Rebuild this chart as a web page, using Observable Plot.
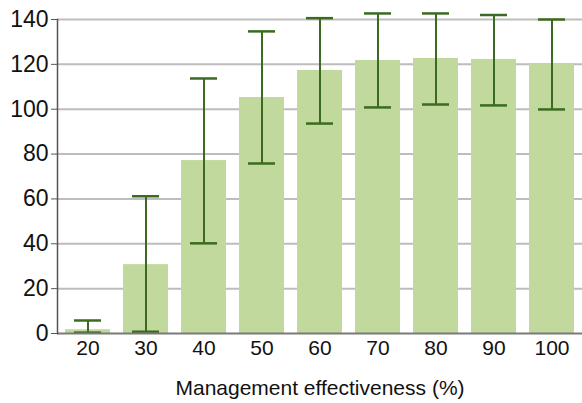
<!DOCTYPE html>
<html>
<head>
<meta charset="utf-8">
<script src="https://cdn.jsdelivr.net/npm/d3@7"></script>
<script src="https://cdn.jsdelivr.net/npm/@observablehq/plot@0.6"></script>
<style>
  html, body { margin: 0; padding: 0; background: #fff; }
  svg { display: block; }
</style>
</head>
<body>
<div id="chart"></div>
<script>
const categories = ["20", "30", "40", "50", "60", "70", "80", "90", "100"];
const values = [1.7, 30.7, 77.1, 105.2, 117.3, 121.7, 122.6, 122.2, 120.4];
const lower = [0.4, 0.8, 40.2, 75.8, 93.6, 100.8, 102.1, 101.7, 99.9];
const upper = [5.8, 61.2, 113.7, 134.7, 140.6, 142.7, 142.7, 142.0, 140.0];
const yTicks = [0, 20, 40, 60, 80, 100, 120, 140];

const data = categories.map((c, i) => ({c, v: values[i], lo: lower[i], hi: upper[i]}));

const chart = Plot.plot({
  width: 582,
  height: 403,
  marginLeft: 57,
  marginRight: 0,
  marginTop: 19,
  marginBottom: 70,
  style: {fontFamily: "'Liberation Sans', Arial, sans-serif", fontSize: "21px", color: "#111"},
  x: {domain: categories, paddingInner: 0.23, paddingOuter: 0.115},
  y: {domain: [0, 140], ticks: yTicks},
  marks: [
    Plot.gridY(yTicks.filter(d => d > 0), {stroke: "#bdbdbd", strokeOpacity: 1, strokeWidth: 2}),
    Plot.barY(data, {x: "c", y: "v", fill: "#c1d99c"}),
    Plot.ruleX(data, {x: "c", y1: "lo", y2: "hi", stroke: "#3b6b20", strokeWidth: 2}),
    Plot.tickY(data, {x: "c", y: "lo", stroke: "#3b6b20", strokeWidth: 2.5, inset: 9}),
    Plot.tickY(data, {x: "c", y: "hi", stroke: "#3b6b20", strokeWidth: 2.5, inset: 9}),
    Plot.ruleY([0], {stroke: "#7a7a7a", strokeWidth: 2}),
    Plot.frame({anchor: "left", stroke: "#555", strokeWidth: 1.5}),
    Plot.axisY(yTicks, {tickSize: 6, tickPadding: 3, stroke: "#555", label: null}),
    Plot.axisX({tickSize: 0, tickPadding: 7, label: "Management effectiveness (%)", labelAnchor: "center", labelOffset: 61, labelArrow: "none"})
  ]
});

d3.select(chart).selectAll('g[aria-label^="y-axis"] text').style("font-size", "23px");

document.getElementById("chart").appendChild(chart);
</script>
</body>
</html>
